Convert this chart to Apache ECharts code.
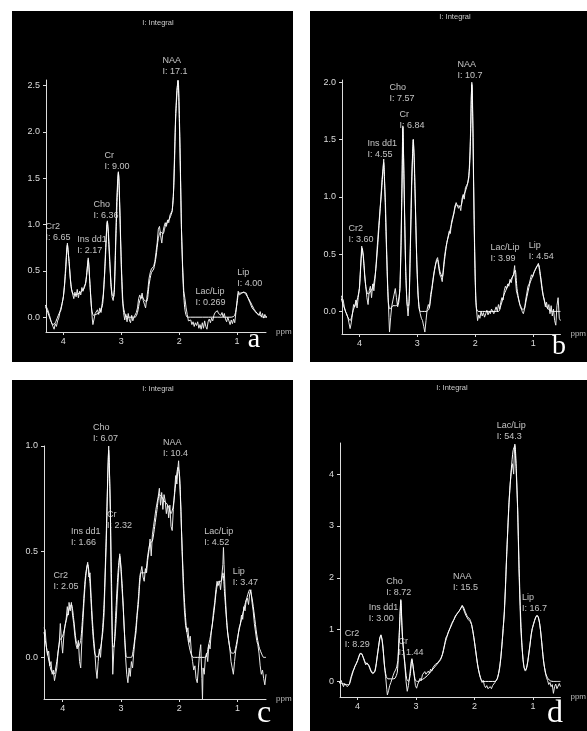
<!DOCTYPE html>
<html>
<head>
<meta charset="utf-8">
<script src="https://cdn.jsdelivr.net/npm/echarts@6/dist/echarts.min.js"></script>
<style>
html,body{margin:0;padding:0;background:#fff;}
#chart{width:587px;height:731px;}
</style>
</head>
<body>
<div id="chart"></div>
<script>
// ---------- data ----------
const ppmTicks = [4, 3, 2, 1];
const yTicksA = [0, 0.5, 1, 1.5, 2, 2.5];
const yTicksB = [0, 0.5, 1, 1.5, 2];
const yTicksC = [0, 0.5, 1];
const yTicksD = [0, 1, 2, 3, 4];

const peakNames = ['Cr2', 'Ins dd1', 'Cho', 'Cr', 'NAA', 'Lac/Lip', 'Lip'];
const integralsA = ['6.65', '2.17', '6.36', '9.00', '17.1', '0.269', '4.00'];
const integralsB = ['3.60', '4.55', '7.57', '6.84', '10.7', '3.99', '4.54'];
const integralsC = ['2.05', '1.66', '6.07', '2.32', '10.4', '4.52', '3.47'];
const integralsD = ['8.29', '3.00', '8.72', '1.44', '15.5', '54.3', '16.7'];

// label anchors (ppm, intensity) of the top-left corner of each annotation
const labelPpmA = [4.30, 3.75, 3.47, 3.28, 2.28, 1.71, 0.99];
const labelValA = [1.03, 0.89, 1.27, 1.80, 2.82, 0.33, 0.54];
const labelPpmB = [4.18, 3.85, 3.47, 3.30, 2.30, 1.73, 1.07];
const labelValB = [0.77, 1.51, 2.00, 1.76, 2.20, 0.60, 0.62];
const labelPpmC = [4.15, 3.85, 3.47, 3.23, 2.27, 1.56, 1.07];
const labelValC = [0.41, 0.62, 1.11, 0.70, 1.04, 0.62, 0.43];
const labelPpmD = [4.21, 3.80, 3.50, 3.29, 2.36, 1.61, 1.18];
const labelValD = [1.02, 1.53, 2.03, 0.87, 2.12, 5.03, 1.71];

// measured spectra (noisy) and fitted spectra, [ppm, intensity]
const measuredA = [[4.36,0.16],[4.33,0.15],[4.30,0.12],[4.27,0.08],[4.24,0.02],[4.21,-0.05],[4.18,-0.10],[4.16,-0.13],[4.14,-0.07],[4.12,-0.10],[4.10,-0.04],[4.08,-0.01],[4.06,0.05],[4.04,0.08],[4.02,0.15],[4.00,0.22],[3.98,0.35],[3.96,0.55],[3.94,0.75],[3.93,0.80],[3.92,0.72],[3.90,0.60],[3.88,0.42],[3.86,0.30],[3.84,0.25],[3.82,0.20],[3.80,0.27],[3.78,0.22],[3.76,0.30],[3.74,0.21],[3.72,0.28],[3.70,0.24],[3.68,0.32],[3.66,0.28],[3.64,0.33],[3.62,0.36],[3.60,0.45],[3.58,0.58],[3.57,0.64],[3.56,0.55],[3.54,0.35],[3.52,0.15],[3.50,-0.02],[3.49,-0.08],[3.47,-0.02],[3.45,0.04],[3.43,0.02],[3.41,0.08],[3.39,0.03],[3.37,0.10],[3.35,0.05],[3.33,0.15],[3.31,0.25],[3.29,0.45],[3.27,0.75],[3.25,1.0],[3.24,1.04],[3.22,0.90],[3.20,0.65],[3.18,0.35],[3.16,0.22],[3.14,0.18],[3.12,0.30],[3.10,0.75],[3.08,1.25],[3.06,1.50],[3.05,1.57],[3.04,1.50],[3.02,1.10],[3.00,0.55],[2.98,0.20],[2.96,0.05],[2.94,-0.03],[2.92,0.03],[2.90,-0.05],[2.88,0.04],[2.86,-0.03],[2.84,-0.06],[2.82,0.02],[2.80,-0.04],[2.78,0.0],[2.76,-0.02],[2.74,0.05],[2.72,0.10],[2.70,0.20],[2.68,0.24],[2.66,0.20],[2.64,0.26],[2.62,0.18],[2.60,0.14],[2.58,0.10],[2.56,0.20],[2.54,0.30],[2.52,0.42],[2.50,0.48],[2.48,0.52],[2.46,0.50],[2.44,0.55],[2.42,0.60],[2.40,0.70],[2.38,0.80],[2.36,0.95],[2.34,0.98],[2.32,0.88],[2.30,0.80],[2.28,0.92],[2.26,0.98],[2.24,1.02],[2.22,0.98],[2.20,1.05],[2.18,1.02],[2.16,1.10],[2.14,1.08],[2.12,1.15],[2.10,1.30],[2.08,1.75],[2.06,2.20],[2.04,2.45],[2.02,2.56],[2.01,2.50],[2.00,2.20],[1.98,1.60],[1.96,0.95],[1.94,0.55],[1.92,0.28],[1.90,0.20],[1.88,0.10],[1.86,0.03],[1.84,-0.04],[1.82,-0.06],[1.80,-0.03],[1.78,-0.08],[1.76,-0.05],[1.74,-0.10],[1.72,-0.06],[1.70,-0.09],[1.68,-0.05],[1.66,-0.12],[1.64,-0.08],[1.62,-0.13],[1.60,-0.06],[1.58,-0.12],[1.56,-0.04],[1.54,-0.10],[1.52,-0.13],[1.50,-0.05],[1.48,-0.02],[1.46,-0.06],[1.44,-0.01],[1.42,-0.04],[1.40,0.02],[1.38,0.05],[1.36,0.03],[1.34,0.07],[1.32,0.04],[1.30,0.06],[1.28,0.02],[1.26,0.05],[1.24,0.0],[1.22,0.04],[1.20,-0.02],[1.18,-0.05],[1.16,0.0],[1.14,-0.04],[1.12,-0.08],[1.10,-0.03],[1.08,-0.07],[1.06,-0.02],[1.04,-0.06],[1.02,0.05],[1.00,0.18],[0.98,0.28],[0.96,0.24],[0.94,0.22],[0.92,0.26],[0.90,0.24],[0.88,0.27],[0.86,0.25],[0.84,0.26],[0.82,0.22],[0.80,0.20],[0.78,0.16],[0.76,0.14],[0.74,0.10],[0.72,0.12],[0.70,0.07],[0.68,0.09],[0.66,0.04],[0.64,0.06],[0.62,0.02],[0.60,0.06],[0.58,0.0],[0.56,0.04],[0.54,-0.01],[0.52,0.03],[0.50,0.0],[0.48,0.01]];
const fittedA = [[4.36,0.16],[4.30,0.10],[4.24,0.0],[4.18,-0.08],[4.14,-0.06],[4.10,0.0],[4.05,0.08],[4.00,0.22],[3.96,0.50],[3.93,0.78],[3.90,0.58],[3.87,0.35],[3.84,0.26],[3.80,0.24],[3.75,0.25],[3.70,0.27],[3.65,0.30],[3.61,0.38],[3.57,0.62],[3.54,0.35],[3.51,0.08],[3.48,0.02],[3.44,0.03],[3.40,0.04],[3.36,0.06],[3.32,0.15],[3.28,0.55],[3.24,1.03],[3.20,0.60],[3.16,0.25],[3.13,0.22],[3.09,0.90],[3.05,1.56],[3.01,0.80],[2.97,0.15],[2.93,0.02],[2.88,0.0],[2.82,0.0],[2.76,0.0],[2.72,0.05],[2.68,0.18],[2.64,0.22],[2.60,0.18],[2.56,0.17],[2.52,0.35],[2.48,0.48],[2.44,0.52],[2.40,0.65],[2.36,0.85],[2.32,0.92],[2.28,0.90],[2.24,0.98],[2.20,1.03],[2.16,1.07],[2.12,1.15],[2.09,1.45],[2.06,2.15],[2.02,2.55],[1.99,2.00],[1.96,0.95],[1.93,0.35],[1.90,0.08],[1.86,0.0],[1.80,0.0],[1.40,0.0],[1.10,0.0],[1.04,0.02],[1.00,0.15],[0.97,0.26],[0.93,0.26],[0.89,0.27],[0.85,0.25],[0.80,0.20],[0.75,0.14],[0.70,0.08],[0.65,0.04],[0.60,0.02],[0.55,0.0],[0.48,0.0]];

const measuredB = [[4.32,0.14],[4.30,0.15],[4.28,0.10],[4.26,0.04],[4.24,0.0],[4.22,-0.02],[4.20,-0.05],[4.18,-0.10],[4.16,-0.15],[4.14,-0.10],[4.12,-0.02],[4.10,0.06],[4.08,0.04],[4.06,0.10],[4.04,0.03],[4.02,0.12],[4.00,0.20],[3.98,0.38],[3.96,0.57],[3.95,0.54],[3.93,0.48],[3.91,0.32],[3.89,0.22],[3.87,0.12],[3.85,0.06],[3.83,0.18],[3.81,0.22],[3.79,0.12],[3.77,0.24],[3.75,0.18],[3.73,0.28],[3.71,0.42],[3.69,0.58],[3.67,0.72],[3.65,0.85],[3.63,0.98],[3.61,1.15],[3.59,1.25],[3.58,1.33],[3.57,1.18],[3.55,0.95],[3.53,0.55],[3.51,0.20],[3.49,-0.05],[3.48,-0.18],[3.46,-0.05],[3.44,0.05],[3.42,0.10],[3.40,0.15],[3.38,0.20],[3.36,0.12],[3.34,0.04],[3.32,0.08],[3.30,0.20],[3.28,0.60],[3.26,1.20],[3.25,1.62],[3.24,1.45],[3.22,0.85],[3.20,0.35],[3.18,0.08],[3.16,-0.04],[3.14,0.10],[3.12,0.60],[3.10,1.10],[3.08,1.38],[3.07,1.50],[3.05,1.30],[3.03,0.85],[3.01,0.45],[2.99,0.15],[2.97,0.04],[2.95,-0.02],[2.93,-0.06],[2.91,-0.08],[2.89,-0.13],[2.87,-0.18],[2.85,-0.08],[2.83,0.02],[2.81,0.06],[2.79,0.03],[2.77,0.15],[2.75,0.20],[2.73,0.28],[2.71,0.35],[2.69,0.40],[2.67,0.45],[2.65,0.47],[2.63,0.38],[2.61,0.32],[2.59,0.30],[2.57,0.26],[2.55,0.38],[2.53,0.48],[2.51,0.55],[2.49,0.60],[2.47,0.65],[2.45,0.70],[2.43,0.68],[2.41,0.78],[2.39,0.82],[2.37,0.86],[2.35,0.92],[2.33,0.95],[2.31,0.96],[2.29,0.90],[2.27,0.92],[2.25,0.88],[2.23,0.98],[2.21,1.02],[2.19,0.98],[2.17,1.08],[2.15,1.10],[2.13,1.12],[2.11,1.17],[2.09,1.40],[2.08,1.60],[2.07,1.85],[2.06,2.00],[2.05,1.95],[2.04,1.55],[2.03,1.15],[2.02,0.85],[2.01,0.55],[2.00,0.30],[1.99,0.10],[1.98,0.02],[1.96,-0.08],[1.94,-0.03],[1.92,-0.06],[1.90,0.0],[1.88,-0.04],[1.86,-0.01],[1.84,-0.05],[1.82,-0.02],[1.80,0.01],[1.78,-0.03],[1.76,0.0],[1.74,-0.02],[1.72,0.02],[1.70,0.0],[1.68,-0.02],[1.66,0.01],[1.64,0.04],[1.62,0.0],[1.60,0.06],[1.58,0.02],[1.56,0.08],[1.54,0.12],[1.52,0.10],[1.50,0.18],[1.48,0.22],[1.46,0.20],[1.44,0.24],[1.42,0.22],[1.40,0.28],[1.38,0.25],[1.36,0.30],[1.34,0.32],[1.32,0.40],[1.31,0.30],[1.29,0.18],[1.27,0.14],[1.25,0.10],[1.23,0.06],[1.21,0.04],[1.19,0.0],[1.17,-0.02],[1.15,0.02],[1.13,0.10],[1.11,0.16],[1.09,0.22],[1.07,0.24],[1.05,0.28],[1.03,0.32],[1.01,0.30],[0.99,0.34],[0.97,0.36],[0.95,0.38],[0.93,0.40],[0.91,0.42],[0.89,0.35],[0.87,0.28],[0.85,0.20],[0.83,0.14],[0.81,0.10],[0.79,0.04],[0.77,0.08],[0.75,0.02],[0.73,0.06],[0.71,-0.02],[0.69,0.05],[0.67,-0.04],[0.65,0.02],[0.63,-0.08],[0.61,-0.12],[0.59,0.05],[0.57,0.12],[0.55,-0.06],[0.53,-0.08]];
const fittedB = [[4.32,0.12],[4.26,0.03],[4.20,-0.05],[4.16,-0.08],[4.10,0.02],[4.04,0.10],[4.00,0.20],[3.97,0.45],[3.95,0.55],[3.92,0.40],[3.89,0.22],[3.85,0.15],[3.80,0.18],[3.76,0.22],[3.72,0.35],[3.68,0.60],[3.64,0.90],[3.61,1.10],[3.58,1.30],[3.56,1.05],[3.53,0.50],[3.50,0.08],[3.47,0.02],[3.42,0.05],[3.38,0.05],[3.34,0.06],[3.30,0.20],[3.27,0.95],[3.25,1.60],[3.23,1.15],[3.20,0.35],[3.17,0.05],[3.15,0.05],[3.12,0.55],[3.09,1.25],[3.07,1.50],[3.04,1.05],[3.01,0.45],[2.98,0.10],[2.95,0.0],[2.85,0.0],[2.80,0.02],[2.76,0.15],[2.72,0.30],[2.68,0.42],[2.65,0.45],[2.61,0.35],[2.57,0.30],[2.53,0.45],[2.49,0.60],[2.45,0.68],[2.41,0.76],[2.37,0.85],[2.33,0.93],[2.29,0.92],[2.25,0.92],[2.21,1.00],[2.17,1.05],[2.13,1.12],[2.10,1.25],[2.08,1.55],[2.06,1.98],[2.04,1.60],[2.02,0.80],[2.00,0.25],[1.98,0.03],[1.95,0.0],[1.60,0.0],[1.56,0.05],[1.50,0.15],[1.44,0.22],[1.38,0.28],[1.34,0.32],[1.31,0.36],[1.28,0.20],[1.24,0.08],[1.20,0.02],[1.16,0.02],[1.12,0.10],[1.06,0.24],[1.00,0.32],[0.95,0.38],[0.91,0.41],[0.87,0.30],[0.83,0.15],[0.78,0.05],[0.72,0.01],[0.65,0.0],[0.53,0.0]];

const measuredC = [[4.32,0.14],[4.30,0.13],[4.28,0.05],[4.26,0.01],[4.24,0.03],[4.22,-0.04],[4.20,-0.02],[4.18,-0.08],[4.16,-0.06],[4.14,-0.11],[4.12,-0.08],[4.10,-0.05],[4.08,0.02],[4.06,0.06],[4.04,0.16],[4.02,0.08],[4.00,0.02],[3.98,0.10],[3.96,0.15],[3.94,0.18],[3.92,0.24],[3.90,0.20],[3.89,0.26],[3.87,0.22],[3.85,0.26],[3.83,0.20],[3.81,0.16],[3.79,0.10],[3.77,0.06],[3.75,0.04],[3.73,0.08],[3.71,-0.02],[3.69,-0.05],[3.67,0.08],[3.65,0.18],[3.63,0.28],[3.61,0.36],[3.59,0.42],[3.57,0.45],[3.55,0.38],[3.53,0.40],[3.51,0.28],[3.49,0.18],[3.47,0.10],[3.45,0.04],[3.43,-0.05],[3.41,-0.10],[3.39,-0.02],[3.37,0.04],[3.35,0.0],[3.33,0.08],[3.31,0.12],[3.29,0.20],[3.27,0.38],[3.25,0.55],[3.23,0.80],[3.21,1.0],[3.20,0.92],[3.18,0.70],[3.17,0.40],[3.15,0.10],[3.14,-0.08],[3.12,0.04],[3.10,0.10],[3.08,0.18],[3.06,0.30],[3.04,0.40],[3.02,0.49],[3.00,0.42],[2.98,0.32],[2.96,0.24],[2.94,0.12],[2.92,0.0],[2.90,-0.08],[2.88,-0.12],[2.86,-0.05],[2.84,-0.09],[2.82,-0.02],[2.80,-0.05],[2.78,0.02],[2.76,0.08],[2.74,0.12],[2.72,0.20],[2.70,0.25],[2.68,0.34],[2.66,0.40],[2.64,0.43],[2.62,0.38],[2.60,0.36],[2.58,0.42],[2.56,0.40],[2.54,0.46],[2.52,0.50],[2.50,0.56],[2.48,0.48],[2.46,0.58],[2.44,0.62],[2.42,0.66],[2.40,0.70],[2.38,0.73],[2.36,0.76],[2.34,0.80],[2.32,0.72],[2.30,0.78],[2.28,0.70],[2.26,0.77],[2.24,0.74],[2.22,0.68],[2.20,0.72],[2.18,0.66],[2.16,0.72],[2.14,0.62],[2.12,0.60],[2.10,0.70],[2.08,0.78],[2.06,0.86],[2.04,0.82],[2.02,0.90],[2.01,0.93],[1.99,0.82],[1.97,0.70],[1.95,0.50],[1.93,0.34],[1.91,0.22],[1.89,0.15],[1.87,0.12],[1.85,0.14],[1.83,0.07],[1.81,0.10],[1.79,0.02],[1.77,-0.02],[1.75,-0.06],[1.73,-0.04],[1.71,-0.10],[1.69,-0.12],[1.67,-0.05],[1.65,0.02],[1.63,0.06],[1.61,-0.10],[1.60,-0.20],[1.59,-0.05],[1.57,-0.08],[1.55,0.0],[1.53,0.02],[1.51,-0.02],[1.49,0.06],[1.47,0.04],[1.45,0.12],[1.43,0.16],[1.41,0.22],[1.39,0.26],[1.37,0.32],[1.35,0.36],[1.33,0.34],[1.31,0.36],[1.29,0.32],[1.27,0.38],[1.25,0.44],[1.24,0.52],[1.23,0.44],[1.21,0.30],[1.19,0.20],[1.17,0.12],[1.15,0.08],[1.13,0.04],[1.11,-0.02],[1.09,-0.05],[1.07,-0.08],[1.05,-0.02],[1.03,0.03],[1.01,0.06],[0.99,0.10],[0.97,0.14],[0.95,0.16],[0.93,0.20],[0.91,0.18],[0.89,0.24],[0.87,0.22],[0.85,0.27],[0.83,0.28],[0.81,0.25],[0.79,0.30],[0.77,0.32],[0.75,0.26],[0.73,0.22],[0.71,0.16],[0.69,0.12],[0.67,0.08],[0.65,0.06],[0.63,0.02],[0.61,-0.04],[0.59,-0.08],[0.57,-0.06],[0.55,-0.10],[0.53,-0.13],[0.51,-0.08]];
const fittedC = [[4.32,0.12],[4.26,0.02],[4.20,-0.06],[4.15,-0.08],[4.10,-0.02],[4.05,0.08],[4.00,0.10],[3.95,0.16],[3.90,0.22],[3.85,0.25],[3.81,0.18],[3.77,0.08],[3.73,0.05],[3.69,0.08],[3.65,0.22],[3.61,0.38],[3.57,0.44],[3.53,0.35],[3.49,0.15],[3.45,0.02],[3.41,0.0],[3.37,0.02],[3.33,0.08],[3.29,0.25],[3.25,0.60],[3.22,0.92],[3.21,0.98],[3.19,0.80],[3.16,0.35],[3.14,0.05],[3.12,0.05],[3.09,0.20],[3.05,0.40],[3.02,0.48],[2.98,0.35],[2.94,0.12],[2.90,0.0],[2.86,0.0],[2.82,0.0],[2.78,0.05],[2.74,0.15],[2.70,0.28],[2.66,0.40],[2.62,0.40],[2.58,0.40],[2.54,0.48],[2.50,0.54],[2.46,0.55],[2.42,0.62],[2.38,0.70],[2.34,0.77],[2.30,0.76],[2.26,0.74],[2.22,0.73],[2.18,0.71],[2.14,0.68],[2.10,0.72],[2.06,0.82],[2.02,0.90],[1.99,0.85],[1.96,0.60],[1.92,0.32],[1.88,0.15],[1.84,0.07],[1.80,0.02],[1.76,0.0],[1.55,0.0],[1.50,0.05],[1.45,0.12],[1.40,0.22],[1.36,0.32],[1.32,0.36],[1.28,0.36],[1.25,0.40],[1.22,0.30],[1.18,0.15],[1.14,0.06],[1.10,0.02],[1.06,0.02],[1.02,0.06],[0.98,0.12],[0.93,0.18],[0.88,0.24],[0.84,0.28],[0.79,0.32],[0.75,0.28],[0.71,0.20],[0.67,0.11],[0.63,0.05],[0.59,0.02],[0.55,0.0],[0.51,0.0]];

const measuredD = [[4.32,-0.04],[4.30,-0.06],[4.28,0.02],[4.26,-0.05],[4.24,-0.10],[4.22,-0.04],[4.20,-0.03],[4.18,-0.10],[4.16,-0.13],[4.14,-0.06],[4.12,0.05],[4.10,0.13],[4.08,0.20],[4.06,0.24],[4.04,0.30],[4.02,0.34],[4.00,0.40],[3.98,0.48],[3.96,0.54],[3.94,0.57],[3.92,0.52],[3.90,0.45],[3.88,0.38],[3.86,0.32],[3.84,0.36],[3.82,0.38],[3.80,0.30],[3.78,0.24],[3.76,0.18],[3.74,0.15],[3.72,0.17],[3.70,0.22],[3.68,0.35],[3.66,0.52],[3.64,0.68],[3.62,0.84],[3.60,0.90],[3.58,0.80],[3.56,0.58],[3.54,0.30],[3.52,0.10],[3.50,-0.15],[3.49,-0.26],[3.47,-0.18],[3.45,-0.08],[3.43,-0.02],[3.41,0.05],[3.39,0.12],[3.37,0.18],[3.35,0.22],[3.33,0.28],[3.31,0.40],[3.29,0.85],[3.27,1.35],[3.26,1.58],[3.25,1.40],[3.24,1.05],[3.23,0.78],[3.21,0.55],[3.19,0.30],[3.17,0.0],[3.15,-0.19],[3.13,-0.08],[3.11,0.10],[3.09,0.30],[3.08,0.40],[3.07,0.44],[3.05,0.30],[3.03,0.10],[3.01,-0.08],[2.99,-0.13],[2.97,-0.05],[2.95,0.0],[2.93,0.06],[2.91,0.02],[2.89,0.13],[2.87,0.10],[2.85,0.19],[2.83,0.14],[2.81,0.12],[2.79,0.20],[2.77,0.16],[2.75,0.24],[2.73,0.20],[2.71,0.27],[2.69,0.25],[2.67,0.33],[2.65,0.30],[2.63,0.36],[2.61,0.38],[2.59,0.42],[2.57,0.46],[2.55,0.52],[2.53,0.62],[2.51,0.72],[2.49,0.84],[2.47,0.88],[2.45,0.95],[2.43,0.98],[2.41,1.05],[2.39,1.12],[2.37,1.15],[2.35,1.20],[2.33,1.26],[2.31,1.28],[2.29,1.32],[2.27,1.35],[2.25,1.38],[2.23,1.42],[2.21,1.47],[2.19,1.40],[2.17,1.34],[2.15,1.28],[2.13,1.25],[2.11,1.20],[2.09,1.22],[2.07,1.15],[2.05,1.10],[2.03,0.98],[2.01,0.84],[1.99,0.68],[1.97,0.50],[1.95,0.34],[1.93,0.22],[1.91,0.12],[1.89,0.04],[1.87,-0.02],[1.85,0.02],[1.83,-0.08],[1.81,-0.12],[1.79,-0.08],[1.77,-0.14],[1.75,-0.16],[1.73,-0.10],[1.71,-0.14],[1.69,-0.08],[1.67,-0.06],[1.65,-0.02],[1.63,0.0],[1.61,0.06],[1.59,0.15],[1.57,0.28],[1.55,0.45],[1.53,0.72],[1.51,1.02],[1.49,1.30],[1.47,1.80],[1.45,2.45],[1.43,2.95],[1.41,3.42],[1.39,3.80],[1.37,4.06],[1.35,4.20],[1.33,4.00],[1.32,4.35],[1.31,4.58],[1.29,4.15],[1.27,3.60],[1.26,3.30],[1.24,2.15],[1.22,1.45],[1.21,1.05],[1.19,0.70],[1.17,0.42],[1.15,0.26],[1.13,0.22],[1.11,0.26],[1.09,0.38],[1.07,0.55],[1.05,0.72],[1.03,0.90],[1.01,1.02],[0.99,1.10],[0.97,1.18],[0.95,1.24],[0.93,1.28],[0.91,1.24],[0.89,1.14],[0.87,0.98],[0.85,0.76],[0.83,0.52],[0.81,0.32],[0.79,0.18],[0.77,0.08],[0.75,0.02],[0.73,-0.06],[0.71,-0.02],[0.69,-0.10],[0.67,-0.06],[0.65,-0.23],[0.63,-0.10],[0.61,-0.05],[0.59,-0.14],[0.57,-0.16],[0.55,-0.04],[0.53,-0.10]];
const fittedD = [[4.32,-0.02],[4.26,-0.04],[4.20,-0.06],[4.15,-0.06],[4.10,0.10],[4.05,0.28],[4.00,0.40],[3.96,0.52],[3.94,0.55],[3.90,0.46],[3.86,0.35],[3.82,0.33],[3.78,0.22],[3.74,0.15],[3.70,0.20],[3.66,0.50],[3.62,0.82],[3.60,0.89],[3.57,0.72],[3.54,0.32],[3.51,0.10],[3.48,0.05],[3.44,0.05],[3.40,0.05],[3.36,0.06],[3.32,0.18],[3.29,0.80],[3.26,1.56],[3.24,1.05],[3.22,0.70],[3.19,0.35],[3.16,0.05],[3.13,0.0],[3.10,0.12],[3.07,0.42],[3.04,0.20],[3.01,0.02],[2.97,0.0],[2.92,0.02],[2.86,0.06],[2.80,0.12],[2.74,0.20],[2.68,0.28],[2.62,0.36],[2.58,0.42],[2.54,0.55],[2.50,0.75],[2.46,0.90],[2.42,1.02],[2.38,1.12],[2.34,1.22],[2.30,1.30],[2.26,1.36],[2.22,1.44],[2.20,1.45],[2.16,1.35],[2.12,1.25],[2.08,1.20],[2.05,1.10],[2.02,0.92],[1.98,0.60],[1.94,0.28],[1.90,0.08],[1.86,0.0],[1.65,0.0],[1.61,0.05],[1.57,0.25],[1.53,0.70],[1.49,1.35],[1.45,2.40],[1.41,3.45],[1.37,4.10],[1.34,4.45],[1.31,4.55],[1.28,3.95],[1.25,2.80],[1.22,1.55],[1.19,0.75],[1.16,0.32],[1.13,0.20],[1.10,0.30],[1.06,0.62],[1.02,0.98],[0.98,1.15],[0.94,1.26],[0.91,1.25],[0.88,1.08],[0.85,0.75],[0.82,0.40],[0.78,0.15],[0.74,0.05],[0.70,0.01],[0.65,0.0],[0.53,0.0]];

// ---------- layout / styling ----------
const FONT = '"Liberation Sans", Arial, sans-serif';
const FG = '#dcdcdc';

const panels = [
  {grid:{left:46, top:80, width:220, height:252}, x:[0.50,4.30], y:[-0.16,2.56], yTicks:yTicksA, dec:1,
   measured:measuredA, fitted:fittedA, lp:labelPpmA, lv:labelValA, ints:integralsA,
   bg:[12,11,281,351], title:[158,23], letter:'a', letterPos:[254,340], letterSize:28},
  {grid:{left:342, top:80, width:226, height:254}, x:[0.53,4.30], y:[-0.197,2.02], yTicks:yTicksB, dec:1,
   measured:measuredB, fitted:fittedB, lp:labelPpmB, lv:labelValB, ints:integralsB,
   bg:[310,11,277,351], title:[455,17], letter:'b', letterPos:[559,347], letterSize:28},
  {grid:{left:44, top:446, width:222, height:253}, x:[0.51,4.32], y:[-0.197,1.0], yTicks:yTicksC, dec:1,
   measured:measuredC, fitted:fittedC, lp:labelPpmC, lv:labelValC, ints:integralsC,
   bg:[12,380,281,351], title:[158,389], letter:'c', letterPos:[264,714], letterSize:32},
  {grid:{left:340, top:443, width:221, height:254}, x:[0.53,4.30], y:[-0.30,4.6], yTicks:yTicksD, dec:0,
   measured:measuredD, fitted:fittedD, lp:labelPpmD, lv:labelValD, ints:integralsD,
   bg:[310,380,277,351], title:[452,388], letter:'d', letterPos:[555,714], letterSize:32}
];

const option = {
  animation: false,
  backgroundColor: '#ffffff',
  grid: [], xAxis: [], yAxis: [], series: [], graphic: []
};

panels.forEach((p, i) => {
  option.grid.push(Object.assign({containLabel:false}, p.grid));
  option.xAxis.push({
    type:'value', gridIndex:i, inverse:true, min:p.x[0], max:p.x[1],
    name:'ppm', nameLocation:'start', nameGap:10,
    nameTextStyle:{color:'#bbb', fontSize:8, fontFamily:FONT, verticalAlign:'middle'},
    axisLine:{show:true, onZero:false, lineStyle:{color:FG, width:1}},
    axisTick:{show:true, customValues:ppmTicks, length:3, lineStyle:{color:FG}},
    axisLabel:{show:true, customValues:ppmTicks, color:FG, fontSize:9, fontFamily:FONT, margin:5,
      formatter:(v)=>String(Math.round(v))},
    splitLine:{show:false}
  });
  option.yAxis.push({
    type:'value', gridIndex:i, min:p.y[0], max:p.y[1], position:'left',
    axisLine:{show:true, onZero:false, lineStyle:{color:FG, width:1}},
    axisTick:{show:true, customValues:p.yTicks, length:3, lineStyle:{color:FG}},
    axisLabel:{show:true, customValues:p.yTicks, color:FG, fontSize:9, fontFamily:FONT, margin:6,
      formatter:(v)=>v.toFixed(p.dec)},
    splitLine:{show:false}
  });
  option.series.push({
    type:'line', xAxisIndex:i, yAxisIndex:i, data:p.measured, symbol:'none', clip:true,
    lineStyle:{color:'#e8e8e8', width:1}, z:3
  });
  option.series.push({
    type:'line', xAxisIndex:i, yAxisIndex:i, data:p.fitted, symbol:'none', clip:true, smooth:0.25,
    lineStyle:{color:'#ffffff', width:1}, z:4
  });
  option.series.push({
    type:'scatter', xAxisIndex:i, yAxisIndex:i, clip:false, silent:true, symbolSize:1,
    itemStyle:{color:'rgba(0,0,0,0)'}, z:5,
    data: peakNames.map((n, k) => ({name: n + '\nI: ' + p.ints[k], value:[p.lp[k], p.lv[k]]})),
    label:{show:true, position:[0,0], align:'left', verticalAlign:'top', color:'#f0f0f0',
      fontSize:9, lineHeight:11, fontFamily:FONT, formatter:(d)=>d.name}
  });
  option.graphic.push({type:'rect', z:-100, silent:true,
    shape:{x:p.bg[0], y:p.bg[1], width:p.bg[2], height:p.bg[3]}, style:{fill:'#000'}});
  option.graphic.push({type:'text', z:10, silent:true, x:p.title[0], y:p.title[1],
    style:{text:'I: Integral', fill:'#cccccc', fontSize:7.5, fontFamily:FONT, align:'center', verticalAlign:'middle'}});
  option.graphic.push({type:'text', z:10, silent:true, x:p.letterPos[0], y:p.letterPos[1],
    style:{text:p.letter, fill:'#ffffff', fontSize:p.letterSize, fontFamily:'"Liberation Serif", "Times New Roman", serif',
      align:'center', verticalAlign:'middle'}});
});

const chart = echarts.init(document.getElementById('chart'), null, {renderer:'canvas'});
chart.setOption(option);
</script>
</body>
</html>
